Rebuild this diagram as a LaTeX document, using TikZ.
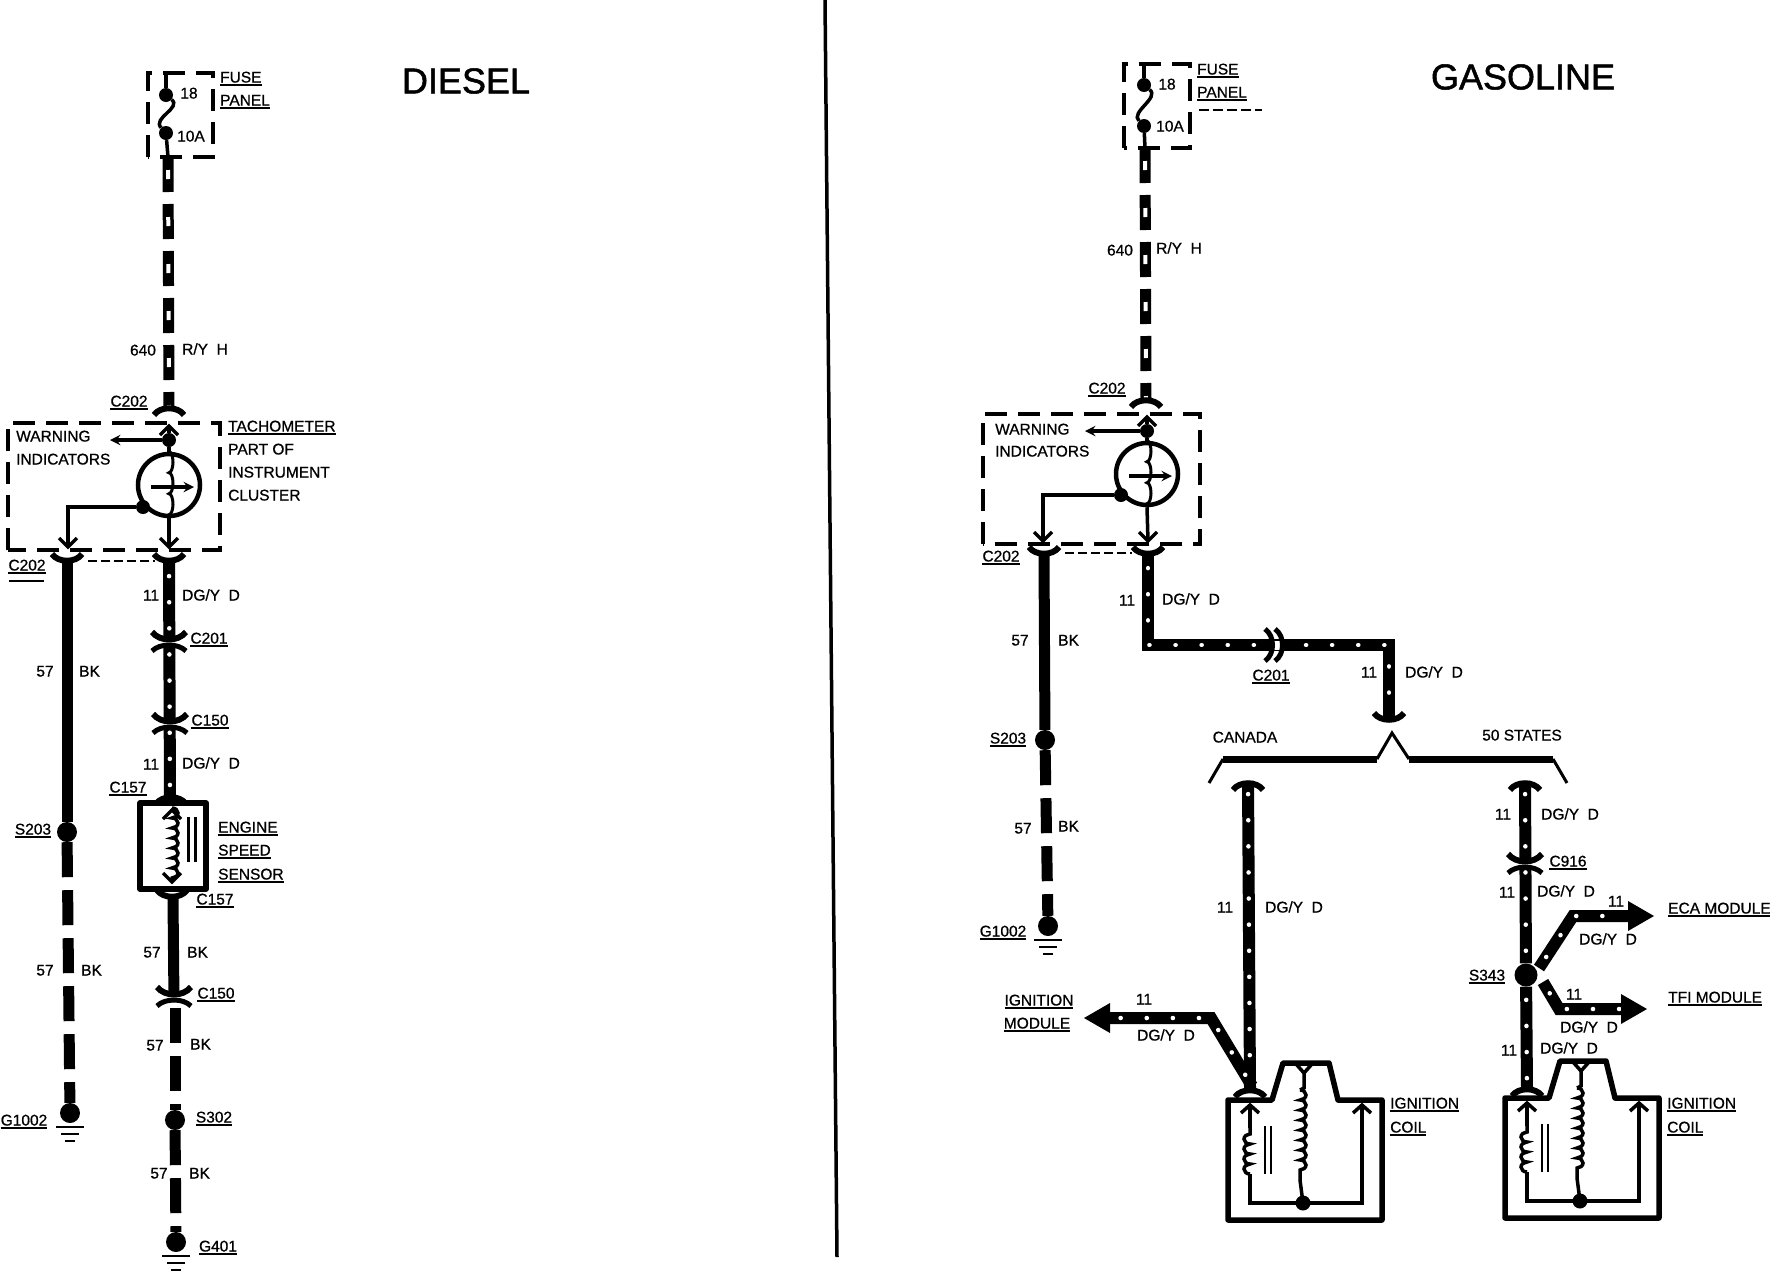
\documentclass[tikz,border=0pt]{standalone}
\usepackage{fontspec}
\setmainfont{Liberation Sans}
\newfontfamily\lblfont{Liberation Sans}[FakeBold=0.8]
\newfontfamily\titlefont{Liberation Sans}[FakeBold=1.4]
\usetikzlibrary{arrows, decorations.pathmorphing}
\newcommand{\ulbl}[1]{\vtop{\hbox{#1}\kern1.6pt\hrule height 2.2pt}}
\tikzstyle{lbl} = [inner sep=0pt, anchor=base west, yshift=-5.5pt, font=\lblfont\fontsize{15.5}{17}\selectfont]
\tikzstyle{lblc} = [inner sep=0pt, anchor=base, yshift=-5.5pt, font=\lblfont\fontsize{15.5}{17}\selectfont]
\tikzstyle{title} = [inner sep=0pt, font=\titlefont\fontsize{36}{40}\selectfont]
\tikzstyle{thinline} = [line width=3.5pt]
\tikzstyle{arrow} = [line width=3.5pt,->,>=stealth]
\tikzstyle{splice} = [circle, fill=black, inner sep=0pt, minimum size=20pt]
\tikzstyle{joint} = [circle, fill=black, inner sep=0pt, minimum size=14pt]
\tikzstyle{wire} = [line width=11pt]
\tikzstyle{bkdash} = [line width=11pt, dash pattern=on 35pt off 13pt]
\tikzstyle{dotwire} = [line width=12pt, postaction={draw=white, line width=4.5pt, line cap=round, dash pattern=on 0.1pt off 26pt, dash phase=13pt}]
\tikzstyle{dashwire} = [line width=11pt, dash pattern=on 35pt off 12pt, postaction={draw=white, line width=4pt, dash pattern=on 9pt off 38pt, dash phase=34pt}]
\tikzstyle{dashbox} = [line width=4.5pt, dash pattern=on 22pt off 11pt]
\tikzstyle{solidbox} = [line width=5.5pt, line join=round]
\tikzstyle{coilline} = [line width=3.5pt, decorate, decoration={bumps, segment length=20pt, amplitude=6pt}]
\tikzstyle{tachcoil} = [line width=3pt, decorate, decoration={bumps, segment length=42pt, amplitude=4pt}]
\tikzset{
  capup/.pic={\draw[line width=6pt] (-15,6) .. controls (-9,-3) and (9,-3) .. (15,6);},
  capdn/.pic={\draw[line width=6pt] (-15,-6) .. controls (-9,3) and (9,3) .. (15,-6);},
  tipup/.pic={\draw[thinline] (-9,9) -- (0,0) -- (9,9);},
  tipdn/.pic={\draw[thinline] (-9,-9) -- (0,0) -- (9,-9);},
  conpair/.pic={
    \draw[white, line width=4pt] (-17,6) .. controls (-9,0) and (9,0) .. (17,6);
    \draw[line width=6pt] (-17,-8) .. controls (-9,2) and (9,2) .. (17,-8);
    \draw[line width=5pt] (-17,11) .. controls (-9,3) and (9,3) .. (17,11);},
  conright/.pic={
    \draw[white, line width=9pt] (0,0) -- (11,0);
    \draw[line width=5pt] (-5,-16) .. controls (5,-9) and (5,9) .. (-5,16);
    \draw[line width=5pt] (5,-16) .. controls (15,-9) and (15,9) .. (5,16);},
  headsym/.pic={\fill (0,-15) -- (26,0) -- (0,15) -- cycle;},
  groundsym/.pic={\draw[line width=2.5pt] (-14,14) -- (14,14) (-9,21) -- (9,21) (-5,28) -- (5,28);},
  coilunit/.pic={
    \draw[solidbox] (0,0) -- (44,0) -- (55,-37) -- (101,-37) -- (110,0) -- (154,0) -- (154,120) -- (0,120) -- cycle;
    \draw[thinline] (68,-36) -- (76,-27) -- (84,-36);
    \draw[thinline] (76,-27) -- (76,-12) -- (72,-10);
    \draw[coilline] (72,-10) -- (72,80);
    \draw[thinline] (72,80) -- (75,103);
    \fill (75,103) circle (7.5);
    \draw[thinline] (22,5) -- (22,103) -- (134,103) -- (134,5);
    \draw[white, line width=4.5pt] (22,74) -- (22,28);
    \draw[coilline] (22,74) -- (22,28);
    \draw[thinline] (13,13) -- (22,5) -- (31,13);
    \draw[thinline] (125,13) -- (134,5) -- (143,13);
    \draw[line width=2.5pt] (37,26) -- (37,74) (43,26) -- (43,74);}
}
\begin{document}
\begin{tikzpicture}[x=1pt, y=-1pt]
    \useasboundingbox (0,0) rectangle (1770,1280);
    % divider
    \coordinate (div_top) at (825,0);
    \coordinate (div_bottom) at (837,1257);
    \draw[line width=3.5pt] (div_top) -- (div_bottom);

    \node (title_diesel) [title] at (466,81) {DIESEL};
    \node (title_gasoline) [title] at (1523,77) {GASOLINE};

    % diesel: fuse and feed
    \draw[dashbox] (148,157) -- (148,73) -- (213,73) -- (213,157) -- cycle;
    \node (d_fuse_a) [joint] at (166,95) {};
    \node (d_fuse_b) [joint] at (166,133) {};
    \coordinate (d_fuse_in) at (166,73);
    \coordinate (d_fuse_out) at (168,157);
    \draw[thinline] (d_fuse_in) -- (d_fuse_a);
    \draw[thinline] (d_fuse_a) .. controls (182,108) and (152,118) .. (d_fuse_b);
    \draw[thinline] (d_fuse_b) -- (d_fuse_out);
    \node (d_fuse_pin) [lblc] at (189,93) {18};
    \node (d_fuse_amp) [lblc] at (191,136) {10A};
    \node (d_fuse_t1) [lbl] at (220,77) {\ulbl{FUSE}};
    \node (d_fuse_t2) [lbl] at (220,100) {\ulbl{PANEL}};
    \coordinate (d_feed_end) at (169,410);
    \draw[dashwire] (d_fuse_out) -- (d_feed_end);
    \node (d_640) [lblc] at (143,350) {640};
    \node (d_ry) [lbl] at (182,349) {R/Y\ \ H};
    \node (d_c202_top) [lblc] at (129,401) {\ulbl{C202}};
    \pic at (169,409) {capup};

    % diesel: tachometer
    \draw[dashbox] (8,550) -- (8,423) -- (220,423) -- (220,550) -- cycle;
    \node (d_tach) [circle, draw, line width=4.5pt, minimum size=62pt, inner sep=0pt] at (169,485) {};
    \node (d_tach_in) [joint] at (169,440) {};
    \coordinate (d_warn) at (110,440);
    \coordinate (d_tach_top) at (169,426);
    \draw[arrow] (d_tach_in) -- (d_warn);
    \draw[thinline] (d_tach_in) -- (d_tach_top);
    \pic at (169,426) {tipup};
    \draw[thinline] (d_tach_in) -- (d_tach.north);
    \draw[tachcoil] (d_tach.north) -- (d_tach.south);
    \coordinate (d_needle_a) at (151,487);
    \coordinate (d_needle_b) at (194,487);
    \draw[arrow] (d_needle_a) -- (d_needle_b);
    \node (d_tach_gnd) [joint] at (143,507) {};
    \coordinate (d_gnd_bend) at (68,507);
    \coordinate (d_gnd_end) at (68,547);
    \draw[thinline] (d_tach_gnd) -- (d_gnd_bend) -- (d_gnd_end);
    \pic at (68,547) {tipdn};
    \coordinate (d_tach_end) at (169,547);
    \draw[thinline] (d_tach.south) -- (d_tach_end);
    \pic at (169,547) {tipdn};
    \node (d_warn_1) [lbl] at (16,436) {WARNING};
    \node (d_warn_2) [lbl] at (16,459) {INDICATORS};
    \node (d_tach_1) [lbl] at (228,426) {\ulbl{TACHOMETER}};
    \node (d_tach_2) [lbl] at (228,449) {PART OF};
    \node (d_tach_3) [lbl] at (228,472) {INSTRUMENT};
    \node (d_tach_4) [lbl] at (228,495) {CLUSTER};

    % diesel: ground wire
    \pic at (67,560) {capdn};
    \pic at (169,560) {capdn};
    \coordinate (d_short_a) at (88,561);
    \coordinate (d_short_b) at (155,561);
    \draw[line width=1.6pt, dash pattern=on 9pt off 4pt] (d_short_a) -- (d_short_b);
    \node (d_c202_low) [lblc] at (27,565) {\ulbl{C202}};
    \coordinate (d_speck_a) at (9,581);
    \coordinate (d_speck_b) at (44,581);
    \draw[line width=1.5pt] (d_speck_a) -- (d_speck_b);
    \node (d_s203) [splice] at (67,832) {};
    \node (d_g1002) [splice] at (70,1113) {};
    \coordinate (d_bk_top) at (67,562);
    \draw[wire] (d_bk_top) -- (d_s203);
    \draw[bkdash] (d_s203) -- (d_g1002);
    \pic at (70,1113) {groundsym};
    \node (d_57a) [lblc] at (45,671) {57};
    \node (d_bka) [lbl] at (79,671) {BK};
    \node (d_57b) [lblc] at (45,970) {57};
    \node (d_bkb) [lbl] at (81,970) {BK};
    \node (d_s203_t) [lblc] at (33,829) {\ulbl{S203}};
    \node (d_g1002_t) [lblc] at (24,1120) {\ulbl{G1002}};

    % diesel: speed sensor branch
    \coordinate (d_sig_a) at (169,563);
    \coordinate (d_sig_b) at (170,798);
    \draw[dotwire] (d_sig_a) -- (d_sig_b);
    \pic at (169,640) {conpair};
    \pic at (170,722) {conpair};
    \pic at (171,798) {capup};
    \node (d_11a) [lblc] at (151,595) {11};
    \node (d_dga) [lbl] at (182,595) {DG/Y\ \ D};
    \node (d_c201) [lblc] at (209,638) {\ulbl{C201}};
    \node (d_c150a) [lblc] at (210,720) {\ulbl{C150}};
    \node (d_11b) [lblc] at (151,764) {11};
    \node (d_dgb) [lbl] at (182,763) {DG/Y\ \ D};
    \node (d_c157a) [lblc] at (128,787) {\ulbl{C157}};
    \draw[solidbox] (140,803) rectangle (206,889);
    \coordinate (d_sens_a) at (172,808);
    \coordinate (d_sens_b) at (172,880);
    \pic at (172,810) {tipup};
    \draw[coilline] (d_sens_a) -- (d_sens_b);
    \pic at (172,882) {tipdn};
    \draw[line width=3pt] (188,817) -- (188,862) (195,817) -- (195,862);
    \node (d_eng_1) [lbl] at (218,827) {\ulbl{ENGINE}};
    \node (d_eng_2) [lbl] at (218,850) {\ulbl{SPEED}};
    \node (d_eng_3) [lbl] at (218,874) {\ulbl{SENSOR}};
    \pic at (172,896) {capdn};
    \node (d_c157b) [lblc] at (215,899) {\ulbl{C157}};
    \coordinate (d_bk2_a) at (173,898);
    \coordinate (d_bk2_b) at (174,1002);
    \draw[wire] (d_bk2_a) -- (d_bk2_b);
    \pic at (174,995) {conpair};
    \node (d_57c) [lblc] at (152,952) {57};
    \node (d_bkc) [lbl] at (187,952) {BK};
    \node (d_c150b) [lblc] at (216,993) {\ulbl{C150}};
    \coordinate (d_bk3_a) at (175,1008);
    \node (d_s302) [splice] at (175,1120) {};
    \node (d_g401) [splice] at (176,1242) {};
    \draw[bkdash] (d_bk3_a) -- (d_s302);
    \draw[bkdash] (d_s302) -- (d_g401);
    \pic at (176,1242) {groundsym};
    \node (d_57d) [lblc] at (155,1045) {57};
    \node (d_bkd) [lbl] at (190,1044) {BK};
    \node (d_s302_t) [lblc] at (214,1117) {\ulbl{S302}};
    \node (d_57e) [lblc] at (159,1173) {57};
    \node (d_bke) [lbl] at (189,1173) {BK};
    \node (d_g401_t) [lblc] at (218,1246) {\ulbl{G401}};

    % gasoline: fuse and feed
    \draw[dashbox] (1124,148) -- (1124,64) -- (1190,64) -- (1190,148) -- cycle;
    \node (g_fuse_a) [joint] at (1144,85) {};
    \node (g_fuse_b) [joint] at (1144,126) {};
    \coordinate (g_fuse_in) at (1144,64);
    \coordinate (g_fuse_out) at (1145,148);
    \draw[thinline] (g_fuse_in) -- (g_fuse_a);
    \draw[thinline] (g_fuse_a) .. controls (1160,98) and (1130,112) .. (g_fuse_b);
    \draw[thinline] (g_fuse_b) -- (g_fuse_out);
    \node (g_fuse_pin) [lblc] at (1167,84) {18};
    \node (g_fuse_amp) [lblc] at (1170,126) {10A};
    \node (g_fuse_t1) [lbl] at (1197,69) {\ulbl{FUSE}};
    \node (g_fuse_t2) [lbl] at (1197,92) {\ulbl{PANEL}};
    \coordinate (g_speck_a) at (1199,110);
    \coordinate (g_speck_b) at (1262,110);
    \draw[line width=1.5pt, dash pattern=on 10pt off 4pt] (g_speck_a) -- (g_speck_b);
    \coordinate (g_feed_end) at (1146,401);
    \draw[dashwire] (g_fuse_out) -- (g_feed_end);
    \node (g_640) [lblc] at (1120,250) {640};
    \node (g_ry) [lbl] at (1156,248) {R/Y\ \ H};
    \node (g_c202_top) [lblc] at (1107,388) {\ulbl{C202}};
    \pic at (1146,401) {capup};

    % gasoline: tachometer
    \draw[dashbox] (983,544) -- (983,414) -- (1200,414) -- (1200,544) -- cycle;
    \node (g_tach) [circle, draw, line width=4.5pt, minimum size=62pt, inner sep=0pt] at (1147,474) {};
    \node (g_tach_in) [joint] at (1147,431) {};
    \coordinate (g_warn) at (1085,431);
    \coordinate (g_tach_top) at (1147,417);
    \draw[arrow] (g_tach_in) -- (g_warn);
    \draw[thinline] (g_tach_in) -- (g_tach_top);
    \pic at (1147,417) {tipup};
    \draw[thinline] (g_tach_in) -- (g_tach.north);
    \draw[tachcoil] (g_tach.north) -- (g_tach.south);
    \coordinate (g_needle_a) at (1129,476);
    \coordinate (g_needle_b) at (1172,476);
    \draw[arrow] (g_needle_a) -- (g_needle_b);
    \node (g_tach_gnd) [joint] at (1121,495) {};
    \coordinate (g_gnd_bend) at (1043,495);
    \coordinate (g_gnd_end) at (1043,541);
    \draw[thinline] (g_tach_gnd) -- (g_gnd_bend) -- (g_gnd_end);
    \pic at (1043,541) {tipdn};
    \coordinate (g_tach_end) at (1148,541);
    \draw[thinline] (g_tach.south) -- (g_tach_end);
    \pic at (1148,541) {tipdn};
    \node (g_warn_1) [lbl] at (995,429) {WARNING};
    \node (g_warn_2) [lbl] at (995,451) {INDICATORS};

    % gasoline: ground wire
    \pic at (1044,553) {capdn};
    \pic at (1148,553) {capdn};
    \coordinate (g_short_a) at (1065,553);
    \coordinate (g_short_b) at (1132,553);
    \draw[line width=1.6pt, dash pattern=on 9pt off 4pt] (g_short_a) -- (g_short_b);
    \node (g_c202_low) [lblc] at (1001,556) {\ulbl{C202}};
    \node (g_s203) [splice] at (1045,740) {};
    \node (g_g1002) [splice] at (1048,926) {};
    \coordinate (g_bk_top) at (1044,555);
    \draw[wire] (g_bk_top) -- (g_s203);
    \draw[bkdash] (g_s203) -- (g_g1002);
    \pic at (1048,926) {groundsym};
    \node (g_57a) [lblc] at (1020,640) {57};
    \node (g_bka) [lbl] at (1058,640) {BK};
    \node (g_57b) [lblc] at (1023,828) {57};
    \node (g_bkb) [lbl] at (1058,826) {BK};
    \node (g_s203_t) [lblc] at (1008,738) {\ulbl{S203}};
    \node (g_g1002_t) [lblc] at (1003,931) {\ulbl{G1002}};

    % gasoline: main signal run
    \coordinate (g_sig_a) at (1148,555);
    \coordinate (g_sig_b) at (1148,645);
    \coordinate (g_sig_c) at (1389,645);
    \coordinate (g_sig_d) at (1389,717);
    \draw[dotwire] (g_sig_a) -- (g_sig_b) -- (g_sig_c) -- (g_sig_d);
    \pic at (1270,645) {conright};
    \pic at (1389,719) {capdn};
    \node (g_11a) [lblc] at (1127,600) {11};
    \node (g_dga) [lbl] at (1162,599) {DG/Y\ \ D};
    \node (g_c201) [lblc] at (1271,675) {\ulbl{C201}};
    \node (g_11b) [lblc] at (1369,672) {11};
    \node (g_dgb) [lbl] at (1405,672) {DG/Y\ \ D};

    % split bracket
    \coordinate (g_br_a) at (1209,783);
    \coordinate (g_br_b) at (1223,759);
    \coordinate (g_br_c) at (1377,759);
    \coordinate (g_br_d) at (1392,733);
    \coordinate (g_br_e) at (1409,759);
    \coordinate (g_br_f) at (1553,759);
    \coordinate (g_br_g) at (1567,783);
    \draw[line width=3pt] (g_br_a) -- (g_br_b);
    \draw[line width=7pt] (g_br_b) -- (g_br_c);
    \draw[line width=3pt] (g_br_c) -- (g_br_d) -- (g_br_e);
    \draw[line width=7pt] (g_br_e) -- (g_br_f);
    \draw[line width=3pt] (g_br_f) -- (g_br_g);
    \node (g_canada) [lblc] at (1245,737) {CANADA};
    \node (g_states) [lblc] at (1522,735) {50 STATES};

    % gasoline: canada wire
    \coordinate (g_can_a) at (1248,781);
    \coordinate (g_can_b) at (1250,1088);
    \draw[dotwire] (g_can_a) -- (g_can_b);
    \pic at (1248,784) {capup};
    \node (g_11c) [lblc] at (1225,907) {11};
    \node (g_dgc) [lbl] at (1265,907) {DG/Y\ \ D};
    \coordinate (g_mod_a) at (1252,1086);
    \coordinate (g_mod_b) at (1211,1018);
    \coordinate (g_mod_c) at (1110,1018);
    \draw[dotwire] (g_mod_a) -- (g_mod_b) -- (g_mod_c);
    \pic[rotate=180] at (1110,1018) {headsym};
    \node (g_11d) [lblc] at (1144,999) {11};
    \node (g_dgd) [lblc] at (1166,1035) {DG/Y\ \ D};
    \node (g_mod_1) [lblc] at (1039,1000) {\ulbl{IGNITION}};
    \node (g_mod_2) [lblc] at (1037,1023) {\ulbl{MODULE}};

    % gasoline: 50 states wire
    \node (g_s343) [splice, minimum size=23pt] at (1526,975) {};
    \coordinate (g_st_a) at (1525,781);
    \draw[dotwire] (g_st_a) -- (g_s343);
    \pic at (1525,784) {capup};
    \pic at (1525,862) {conpair};
    \node (g_11e) [lblc] at (1503,814) {11};
    \node (g_dge) [lbl] at (1541,814) {DG/Y\ \ D};
    \node (g_c916) [lblc] at (1568,861) {\ulbl{C916}};
    \node (g_11f) [lblc] at (1507,892) {11};
    \node (g_dgf) [lbl] at (1537,891) {DG/Y\ \ D};
    \node (g_s343_t) [lblc] at (1487,975) {\ulbl{S343}};
    \coordinate (g_eca_a) at (1539,968);
    \coordinate (g_eca_b) at (1573,916);
    \coordinate (g_eca_c) at (1628,916);
    \draw[dotwire] (g_eca_a) -- (g_eca_b) -- (g_eca_c);
    \pic at (g_eca_c) {headsym};
    \node (g_11g) [lblc] at (1616,901) {11};
    \node (g_dgg) [lbl] at (1579,939) {DG/Y\ \ D};
    \node (g_eca) [lbl] at (1668,908) {\ulbl{ECA MODULE}};
    \coordinate (g_tfi_a) at (1543,982);
    \coordinate (g_tfi_b) at (1559,1009);
    \coordinate (g_tfi_c) at (1621,1009);
    \draw[dotwire] (g_tfi_a) -- (g_tfi_b) -- (g_tfi_c);
    \pic at (g_tfi_c) {headsym};
    \node (g_11h) [lblc] at (1574,994) {11};
    \node (g_dgh) [lbl] at (1560,1027) {DG/Y\ \ D};
    \node (g_tfi) [lbl] at (1668,997) {\ulbl{TFI MODULE}};
    \coordinate (g_st_b) at (1527,1088);
    \draw[dotwire] (g_s343) -- (g_st_b);
    \node (g_11i) [lblc] at (1509,1050) {11};
    \node (g_dgi) [lbl] at (1540,1048) {DG/Y\ \ D};

    % ignition coils
    \pic at (1228,1100) {coilunit};
    \pic at (1505,1098) {coilunit};
    \pic at (1250,1091) {capup};
    \pic at (1527,1090) {capup};
    \node (g_coil_1a) [lbl] at (1390,1103) {\ulbl{IGNITION}};
    \node (g_coil_1b) [lbl] at (1390,1127) {\ulbl{COIL}};
    \node (g_coil_2a) [lbl] at (1667,1103) {\ulbl{IGNITION}};
    \node (g_coil_2b) [lbl] at (1667,1127) {\ulbl{COIL}};
\end{tikzpicture}
\end{document}
